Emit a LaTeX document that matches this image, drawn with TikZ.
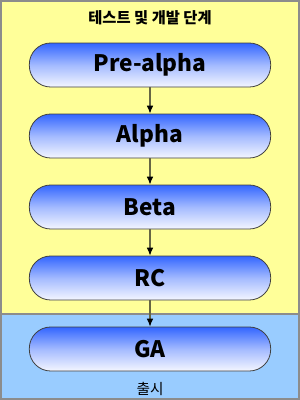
\documentclass[tikz,border=0pt]{standalone}
\usepackage{fontspec}
\usetikzlibrary{arrows.meta}
\setmainfont{Noto Sans CJK KR}
\newfontfamily\kr{Noto Sans CJK KR}
\definecolor{ylw}{HTML}{FFFF99}
\definecolor{lblue}{HTML}{99CCFF}
\definecolor{pilltop}{HTML}{3366FF}
\definecolor{pillbot}{HTML}{F4F6FF}
\definecolor{arrowc}{HTML}{666644}
\begin{document}
\begin{tikzpicture}[x=0.75pt,y=-0.75pt,
  pill/.style={draw=black!75,line width=0.6pt,rounded corners=16pt,top color=pilltop,bottom color=pillbot,middle color=pilltop!45!white,minimum width=181pt,minimum height=33pt,font=\kr\bfseries\fontsize{17}{20}\selectfont,text=black},
  conn/.style={draw=arrowc,line width=0.8pt,-{Latex[length=6pt,width=5pt,color=black]}},
  region/.style={draw=black!45,line width=0.8pt}]
\useasboundingbox (0,0) rectangle (300,400);
\fill[ylw,region] (1,1) rectangle (299,314);
\fill[lblue,region] (1,314) rectangle (299,399);
\node[font=\kr\bfseries\fontsize{11.5}{13}\selectfont] (title) at (150,18) {테스트 및 개발 단계};
\node[font=\kr\fontsize{11}{12}\selectfont] (rel) at (150,389) {출시};
\node[pill] (pa) at (150,65) {Pre-alpha};
\node[pill] (al) at (150,136) {Alpha};
\node[pill] (be) at (150,207) {Beta};
\node[pill] (rc) at (150,278) {RC};
\node[pill] (ga) at (150,349) {GA};
\draw[conn] (pa) -- (al);
\draw[conn] (al) -- (be);
\draw[conn] (be) -- (rc);
\draw[conn] (rc) -- (ga);
\end{tikzpicture}
\end{document}
